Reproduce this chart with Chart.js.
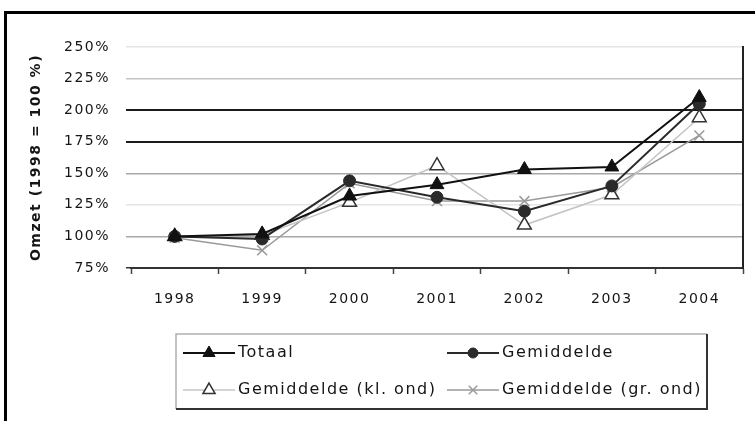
<!DOCTYPE html>
<html>
<head>
<meta charset="utf-8">
<script src="https://cdn.jsdelivr.net/npm/chart.js@4/dist/chart.umd.min.js"></script>
<style>
  body { margin: 0; background: #fff; }
  #wrap { position: relative; width: 755px; height: 421px; overflow: hidden; }
  #frame { position: absolute; left: 4px; top: 11px; width: 800px; height: 500px;
           border-top: 3px solid #000; border-left: 3px solid #000; }
  canvas { position: absolute; left: 0; top: 0; }
</style>
</head>
<body>
<div id="wrap">
  <div id="frame"></div>
  <canvas id="omzetChart" width="755" height="421"></canvas>
</div>
<script>
// Years and index values (1998 = 100 %)
const years = ['1998', '1999', '2000', '2001', '2002', '2003', '2004'];
const totaal = [100, 102, 132, 141, 153, 155, 210];
const gemiddelde = [100, 98, 144, 131, 120, 140, 205];
const gemKlOnd = [100, 101, 127, 156, 109, 133, 194];
const gemGrOnd = [99, 89, 142, 128, 128, 139, 180];
const seriesNames = ['Totaal', 'Gemiddelde', 'Gemiddelde (kl. ond)', 'Gemiddelde (gr. ond)'];

const FONT = '"DejaVu Sans", sans-serif';

// gridline colour per tick value
function gridColor(v) {
  if (v === 200 || v === 175) return '#1a1a1a';
  if (v === 75) return '#333';
  if (v === 150 || v === 100) return '#a8a8a8';
  if (v === 225) return '#c4c4c4';
  return '#e4e4e4';
}

// wider text like the scanned original
const spacingPlugin = {
  id: 'spacing',
  beforeLayout(chart) { chart.ctx.letterSpacing = '1.5px'; },
  beforeDraw(chart) { chart.ctx.letterSpacing = '1.5px'; }
};

// two-column boxed legend, drawn from the dataset styles
const boxLegend = {
  id: 'boxLegend',
  afterDraw(chart) {
    const ctx = chart.ctx;
    const box = { x: 176, y: 334, w: 531, h: 75 };
    const slots = [
      { x: 183, y: 353 }, { x: 447, y: 353 },
      { x: 183, y: 390 }, { x: 447, y: 390 }
    ];
    ctx.save();
    ctx.strokeStyle = '#b0b0b0';
    ctx.lineWidth = 1.5;
    ctx.beginPath();
    ctx.moveTo(box.x, box.y + box.h);
    ctx.lineTo(box.x, box.y);
    ctx.lineTo(box.x + box.w, box.y);
    ctx.stroke();
    ctx.strokeStyle = '#333';
    ctx.lineWidth = 2;
    ctx.beginPath();
    ctx.moveTo(box.x + box.w, box.y);
    ctx.lineTo(box.x + box.w, box.y + box.h);
    ctx.lineTo(box.x, box.y + box.h);
    ctx.stroke();

    chart.data.datasets.forEach((ds, i) => {
      const s = slots[i];
      ctx.strokeStyle = ds.borderColor;
      ctx.lineWidth = ds.borderWidth;
      ctx.beginPath();
      ctx.moveTo(s.x, s.y);
      ctx.lineTo(s.x + 52, s.y);
      ctx.stroke();
      ctx.fillStyle = ds.pointBackgroundColor;
      ctx.strokeStyle = ds.pointBorderColor;
      ctx.lineWidth = ds.pointBorderWidth;
      Chart.helpers.drawPoint(ctx, {
        pointStyle: ds.pointStyle, radius: ds.pointRadius - 1,
        rotation: 0, borderWidth: ds.pointBorderWidth
      }, s.x + 26, s.y);
      ctx.fillStyle = '#151515';
      ctx.font = '16px ' + FONT;
      ctx.textBaseline = 'middle';
      ctx.textAlign = 'left';
      ctx.fillText(ds.label, s.x + 55, s.y);
    });
    ctx.restore();
  }
};

const ctx = document.getElementById('omzetChart').getContext('2d');
new Chart(ctx, {
  type: 'line',
  data: {
    labels: years,
    datasets: [
      {
        label: seriesNames[0], data: totaal,
        borderColor: '#111', borderWidth: 2,
        pointStyle: 'triangle', pointRadius: 8,
        pointBackgroundColor: '#111', pointBorderColor: '#111', pointBorderWidth: 1
      },
      {
        label: seriesNames[1], data: gemiddelde,
        borderColor: '#2a2a2a', borderWidth: 2,
        pointStyle: 'circle', pointRadius: 6,
        pointBackgroundColor: '#2a2a2a', pointBorderColor: '#2a2a2a', pointBorderWidth: 1
      },
      {
        label: seriesNames[2], data: gemKlOnd,
        borderColor: '#c4c4c4', borderWidth: 1.5,
        pointStyle: 'triangle', pointRadius: 8,
        pointBackgroundColor: '#fff', pointBorderColor: '#333', pointBorderWidth: 1.5
      },
      {
        label: seriesNames[3], data: gemGrOnd,
        borderColor: '#9a9a9a', borderWidth: 1.5,
        pointStyle: 'crossRot', pointRadius: 7,
        pointBackgroundColor: '#9a9a9a', pointBorderColor: '#9a9a9a', pointBorderWidth: 1.5
      }
    ]
  },
  options: {
    responsive: false,
    animation: false,
    layout: { padding: { left: 22, top: 47, right: 12, bottom: 103 } },
    plugins: {
      legend: { display: false },
      tooltip: { enabled: false }
    },
    scales: {
      x: {
        offset: true,
        afterFit: s => { s.height = 50; },
        grid: {
          offset: true, drawOnChartArea: false,
          tickLength: 6, tickColor: '#444', tickWidth: 1.5
        },
        border: { display: true, color: '#333', width: 2 },
        ticks: { color: '#151515', font: { family: FONT, size: 14 }, padding: 17, maxRotation: 0 }
      },
      y: {
        min: 75, max: 250,
        afterFit: s => { s.width = 109; },
        ticks: {
          stepSize: 25, color: '#151515', padding: 16,
          font: { family: FONT, size: 14 },
          callback: v => v + '%'
        },
        grid: {
          color: c => gridColor(c.tick.value),
          tickColor: c => gridColor(c.tick.value),
          lineWidth: c => (c.tick.value === 200 || c.tick.value === 175) ? 2 : 1.5,
          tickLength: 5
        },
        border: { display: false },
        title: {
          display: true, text: 'Omzet (1998 = 100 %)', color: '#151515',
          font: { family: FONT, size: 14, weight: 'bold' },
          padding: { top: 6, bottom: 0 }
        }
      },
      y2: {
        position: 'right', min: 75, max: 250,
        afterFit: s => { s.width = 0; },
        ticks: { display: false },
        grid: { drawOnChartArea: false, drawTicks: false },
        border: { display: true, color: '#222', width: 2 }
      }
    }
  },
  plugins: [spacingPlugin, boxLegend]
});
</script>
</body>
</html>
